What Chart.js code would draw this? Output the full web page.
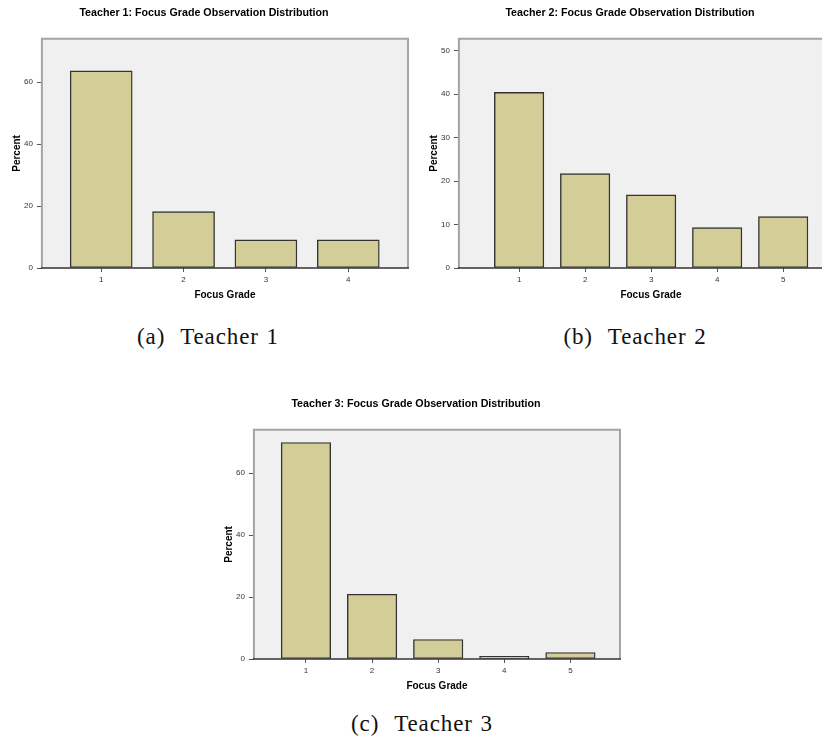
<!DOCTYPE html>
<html>
<head>
<meta charset="utf-8">
<script src="https://cdn.jsdelivr.net/npm/chart.js@4.4.1/dist/chart.umd.min.js"></script>
<style>
  html, body { margin: 0; padding: 0; background: #ffffff; width: 822px; height: 744px; overflow: hidden; }
  .panel { position: absolute; }
  .panel canvas { display: block; }
  .caption {
    position: absolute; width: 240px; text-align: center;
    font-family: "Liberation Serif", "Times New Roman", serif;
    font-size: 23px; line-height: 23px; color: #111;
    letter-spacing: 0.9px; word-spacing: 1px; white-space: pre;
  }
</style>
</head>
<body>

<div class="panel" style="left:0px; top:0px;"><canvas id="c1" width="416" height="306"></canvas></div>
<div class="panel" style="left:417px; top:0px;"><canvas id="c2" width="434" height="306"></canvas></div>
<div class="panel" style="left:212px; top:391px;"><canvas id="c3" width="416" height="306"></canvas></div>

<div class="caption" style="left:88px; top:325px;">(a)  Teacher 1</div>
<div class="caption" style="left:515px; top:325px;">(b)  Teacher 2</div>
<div class="caption" style="left:302px; top:712px;">(c)  Teacher 3</div>

<script>
// Focus grade categories and the percent of observations in each
const grades1 = [1, 2, 3, 4];
const percent1 = [63.64, 18.18, 9.09, 9.09];

const grades2 = [1, 2, 3, 4, 5];
const percent2 = [40.4, 21.7, 16.8, 9.3, 11.8];

const grades3 = [1, 2, 3, 4, 5];
const percent3 = [69.9, 20.9, 6.3, 0.9, 2.1];

// Percent axis tick values
const yTicks1 = [0, 20, 40, 60];
const yTicks2 = [0, 10, 20, 30, 40, 50];
const yTicks3 = [0, 20, 40, 60];

const title1 = 'Teacher 1: Focus Grade Observation Distribution';
const title2 = 'Teacher 2: Focus Grade Observation Distribution';
const title3 = 'Teacher 3: Focus Grade Observation Distribution';

const SANS = '"Liberation Sans", Arial, Helvetica, sans-serif';

// Light grey plot background plus a grey frame on the left, top and right
const plotFrame = {
  id: 'plotFrame',
  beforeDraw(chart) {
    const { ctx, chartArea: a } = chart;
    ctx.save();
    ctx.fillStyle = '#f0f0f0';
    ctx.fillRect(a.left, a.top, a.right - a.left, a.bottom - a.top);
    ctx.restore();
  },
  afterDraw(chart) {
    const { ctx, chartArea: a } = chart;
    ctx.save();
    ctx.strokeStyle = '#a4a4a4';
    ctx.lineWidth = 2;
    ctx.beginPath();
    ctx.moveTo(a.left, a.bottom);
    ctx.lineTo(a.left, a.top);
    ctx.lineTo(a.right, a.top);
    ctx.lineTo(a.right, a.bottom);
    ctx.stroke();
    // dark baseline along the category axis
    ctx.strokeStyle = '#333333';
    ctx.lineWidth = 1.6;
    ctx.beginPath();
    ctx.moveTo(a.left - 1, a.bottom);
    ctx.lineTo(a.right + 1, a.bottom);
    ctx.stroke();
    ctx.restore();
  }
};

function makeChart(id, grades, percents, yTicks, yMax, xMin, xMax, barPx, title) {
  const points = grades.map((g, i) => ({ x: g, y: percents[i] }));
  return new Chart(document.getElementById(id), {
    type: 'bar',
    data: {
      datasets: [{
        data: points,
        backgroundColor: '#d3ce98',
        borderColor: '#333333',
        borderWidth: 1.4,
        borderSkipped: false,
        barThickness: barPx
      }]
    },
    options: {
      responsive: false,
      animation: false,
      devicePixelRatio: 1,
      layout: { padding: { left: 0, right: 8, top: 0, bottom: 0 } },
      plugins: {
        legend: { display: false },
        tooltip: { enabled: false },
        title: {
          display: true,
          text: title,
          color: '#000',
          font: { family: SANS, size: 10.7, weight: 'bold' },
          padding: { top: 7, bottom: 19 }
        }
      },
      scales: {
        x: {
          type: 'linear',
          offset: false,
          min: xMin,
          max: xMax,
          afterBuildTicks(scale) { scale.ticks = grades.map(v => ({ value: v })); },
          grid: { display: true, offset: false, drawOnChartArea: false, drawTicks: true, tickLength: 4, color: '#555', lineWidth: 1 },
          border: { display: false },
          ticks: { color: '#333', font: { family: SANS, size: 8 }, padding: 3, maxRotation: 0, autoSkip: false,
                   callback: v => String(v) },
          title: { display: true, text: 'Focus Grade', color: '#000',
                   font: { family: SANS, size: 10, weight: 'bold' }, padding: { top: 1.4, bottom: 5 } }
        },
        y: {
          type: 'linear',
          min: 0,
          max: yMax,
          afterBuildTicks(scale) { scale.ticks = yTicks.map(v => ({ value: v })); },
          grid: { display: true, drawOnChartArea: false, drawTicks: true, tickLength: 5, color: '#555', lineWidth: 1 },
          border: { display: false },
          ticks: { color: '#333', font: { family: SANS, size: 8 }, padding: 4, autoSkip: false },
          title: { display: true, text: 'Percent', color: '#000',
                   font: { family: SANS, size: 10, weight: 'bold' }, padding: { top: 11, bottom: -3 } }
        }
      }
    },
    plugins: [plotFrame]
  });
}

makeChart('c1', grades1, percent1, yTicks1, 74, 0.28, 4.725, 62, title1);
makeChart('c2', grades2, percent2, yTicks2, 52.7, 0.088, 5.906, 49.5, title2);
makeChart('c3', grades3, percent3, yTicks3, 74, 0.2125, 5.75, 49.5, title3);
</script>
</body>
</html>
